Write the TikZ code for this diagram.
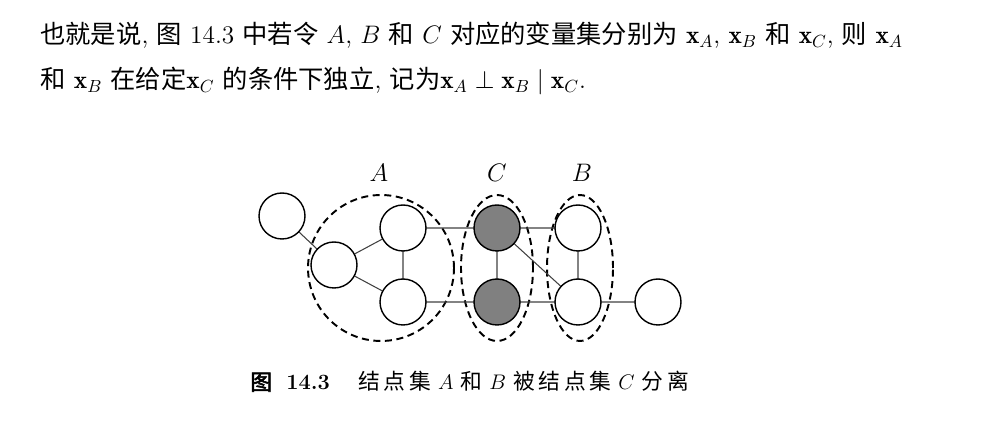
\documentclass[tikz,border=0pt]{standalone}
\usepackage{fontspec}
\usetikzlibrary{shapes.geometric}
\newfontfamily\cjk[AutoFakeBold=2.5]{Noto Sans CJK SC}
\begin{document}
\begin{tikzpicture}[x=0.02cm,y=-0.02cm,
  vnode/.style={circle,draw,line width=0.8pt,minimum size=0.92cm,inner sep=0pt,fill=white},
  cnode/.style={vnode,fill=black!50},
  edge/.style={line width=0.6pt,black!75},
  setbox/.style={ellipse,draw,line width=1.1pt,dash pattern=on 4pt off 2.6pt,inner sep=0pt},
  setlabel/.style={font=\fontsize{15pt}{18pt}\selectfont},
  txt/.style={anchor=base west,inner sep=0pt,font=\fontsize{14.4pt}{17pt}\selectfont},
  captxt/.style={anchor=base west,inner sep=0pt,font=\fontsize{12.4pt}{15pt}\selectfont}]
\useasboundingbox (0,0) rectangle (1000,428);
% text
\node[txt] (t1) at (40,44) {{\cjk 也就是说}, {\cjk 图} 14.3 {\cjk 中若令} $A$, $B$ {\cjk 和} $C$ {\cjk 对应的变量集分别为} $\mathbf{x}_A$, $\mathbf{x}_B$ {\cjk 和} $\mathbf{x}_C$, {\cjk 则} $\mathbf{x}_A$};
\node[txt] (t2) at (40,89) {{\cjk 和} $\mathbf{x}_B$ {\cjk 在给定}$\mathbf{x}_C$ {\cjk 的条件下独立}, {\cjk 记为}$\mathbf{x}_A\perp\mathbf{x}_B\mid\mathbf{x}_C$.};
% sets
\node[setbox,minimum width=2.92cm,minimum height=2.92cm] (SA) at (381,268) {};
\node[setbox,minimum width=1.44cm,minimum height=2.92cm] (SC) at (497,268) {};
\node[setbox,minimum width=1.32cm,minimum height=2.92cm] (SB) at (580,268) {};
\node[setlabel] (LA) at (379,173) {$A$};
\node[setlabel] (LC) at (497,173) {$C$};
\node[setlabel] (LB) at (582,173) {$B$};
% edges first (under nodes)
\coordinate (p0) at (282,216);
\coordinate (p1) at (334,265);
\coordinate (pa) at (403,228);
\coordinate (pb) at (403,302);
\coordinate (pc) at (497,228);
\coordinate (pd) at (497,302);
\coordinate (pe) at (578,228);
\coordinate (pf) at (578,302);
\coordinate (pg) at (658,302);
\draw[edge] (p0)--(p1) (p1)--(pa) (p1)--(pb) (pa)--(pb) (pa)--(pc) (pb)--(pd)
  (pc)--(pd) (pc)--(pe) (pc)--(pf) (pd)--(pf) (pe)--(pf) (pf)--(pg);
\node[vnode] (n0) at (p0) {};
\node[vnode] (n1) at (p1) {};
\node[vnode] (na) at (pa) {};
\node[vnode] (nb) at (pb) {};
\node[cnode] (nc) at (pc) {};
\node[cnode] (nd) at (pd) {};
\node[vnode] (ne) at (pe) {};
\node[vnode] (nf) at (pf) {};
\node[vnode] (ng) at (pg) {};
% caption
\node[captxt] (cap) at (250,390) {{\cjk\bfseries 图}\ \ \textbf{14.3}\hspace{1.3em}{\cjk 结\,点\,集} $A$ {\cjk 和} $B$ {\cjk 被\,结\,点\,集} $C$ {\cjk 分\,离}};
\end{tikzpicture}
\end{document}
